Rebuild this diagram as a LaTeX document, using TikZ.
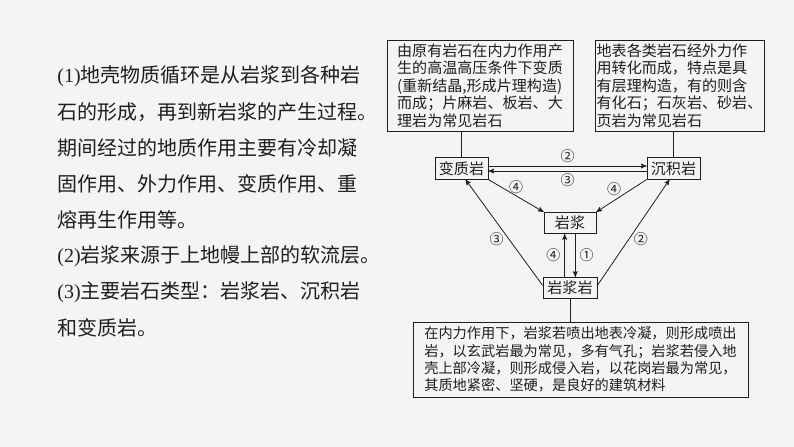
\documentclass[tikz,border=0pt]{standalone}
\usepackage{fontspec}
\setmainfont{Liberation Serif}
\newfontfamily\cjk{Noto Sans CJK SC}
\usepackage{tikz}
\usetikzlibrary{arrows}
\definecolor{bggray}{RGB}{244,244,244}
\definecolor{ink}{RGB}{30,30,30}

\begin{document}
\begin{tikzpicture}[x=0.75pt, y=-0.75pt, line width=0.6pt, color=ink]
    \tikzset{>=stealth'}
    \tikzset{rock/.style={draw, inner sep=0pt, minimum height=16pt,
        font=\cjk\fontsize{11.3}{12}\selectfont}}
    \tikzset{note/.style={draw, inner sep=0pt, align=left,
        font=\cjk\fontsize{11.3}{13.1}\selectfont}}
    \tikzset{num/.style={inner sep=1pt, font=\cjk\fontsize{10.5}{10.5}\selectfont}}
    \tikzset{para/.style={anchor=west, inner sep=0pt, font=\fontsize{15}{15}\selectfont}}

    % Background of the page
    \fill[bggray] (0, 0) rectangle (794, 447);
    \useasboundingbox (0, 0) rectangle (794, 447);

    % Text on the left
    \node[para] (line1) at (57, 76)  {(1)\cjk 地壳物质循环是从岩浆到各种岩};
    \node[para] (line2) at (57, 112) {\cjk 石的形成，再到新岩浆的产生过程。};
    \node[para] (line3) at (57, 148) {\cjk 期间经过的地质作用主要有冷却凝};
    \node[para] (line4) at (57, 184) {\cjk 固作用、外力作用、变质作用、重};
    \node[para] (line5) at (57, 220) {\cjk 熔再生作用等。};
    \node[para] (line6) at (57, 256) {(2)\cjk 岩浆来源于上地幔上部的软流层。};
    \node[para] (line7) at (57, 292) {(3)\cjk 主要岩石类型：岩浆岩、沉积岩};
    \node[para] (line8) at (57, 328) {\cjk 和变质岩。};

    % The notes
    \node[note, minimum width=139.5pt, minimum height=68.25pt] (metanote) at (480, 85.5)
        {由原有岩石在内力作用产\\生的高温高压条件下变质\\(重新结晶,形成片理构造)\\而成；片麻岩、板岩、大\\理岩为常见岩石};
    \node[note, minimum width=126.75pt, minimum height=68.25pt] (sedinote) at (679.5, 85.5)
        {地表各类岩石经外力作\\用转化而成，特点是具\\有层理构造，有的则含\\有化石；石灰岩、砂岩、\\页岩为常见岩石};
    \node[note, minimum width=251.25pt, minimum height=56.25pt,
        font=\cjk\fontsize{10.65}{13.1}\selectfont] (ignenote) at (580.5, 359.5)
        {在内力作用下，岩浆若喷出地表冷凝，则形成喷出\\岩，以玄武岩最为常见，多有气孔；岩浆若侵入地\\壳上部冷凝，则形成侵入岩，以花岗岩最为常见，\\其质地紧密、坚硬，是良好的建筑材料};

    % The rocks
    \node[rock, minimum width=39.75pt] (metam) at (461.5, 168.5) {变质岩};
    \node[rock, minimum width=39.75pt] (sedim) at (673.5, 168.5) {沉积岩};
    \node[rock, minimum width=39pt] (magma) at (570, 223) {岩浆};
    \node[rock, minimum width=40.5pt] (igneous) at (570, 288) {岩浆岩};

    % Lines to the notes
    \draw (metanote.south -| metam.north) -- (metam.north);
    \draw (sedinote.south -| sedim.north) -- (sedim.north);
    \draw (igneous.south) -- (ignenote.north -| igneous.south);

    % The cycle
    \draw[->] ([yshift=1.9pt]metam.east) -- node[num, above=1pt] {②} ([yshift=1.9pt]sedim.west);
    \draw[->] ([yshift=-1.9pt]sedim.west) -- node[num, below=1pt] {③} ([yshift=-1.9pt]metam.east);

    \draw[->] (metam.south east) -- node[num, above] {④} (magma.north west);
    \draw[->] (sedim.south west) -- node[num, above left=-1pt] {④} (magma.north east);

    \draw[->] ([yshift=2pt]igneous.west) -- node[num, below left=-1pt] {③} ([xshift=3pt]metam.south);
    \draw[->] ([yshift=2pt]igneous.east) -- node[num, below right=-1pt] {②} ([xshift=-3pt]sedim.south);

    \draw[->] ([xshift=-4pt]igneous.north) -- node[num, left=2pt] {④} ([xshift=-4pt]magma.south);
    \draw[->] ([xshift=4pt]magma.south) -- node[num, right=2pt] {①} ([xshift=4pt]igneous.north);
\end{tikzpicture}
\end{document}
